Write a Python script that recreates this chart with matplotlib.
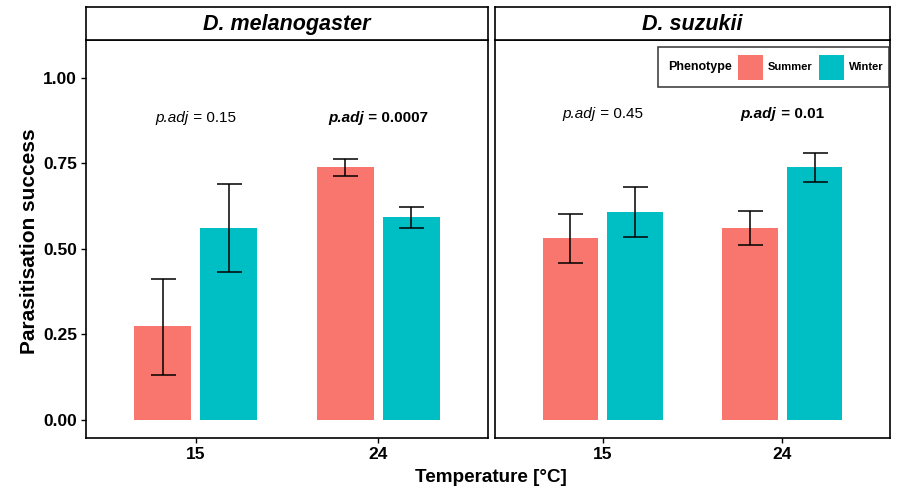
import matplotlib
matplotlib.use("Agg")
import matplotlib.pyplot as plt
from matplotlib.patches import Rectangle
import numpy as np

plt.rcParams['font.family'] = ['Liberation Sans', 'DejaVu Sans']

species = ["D. melanogaster", "D. suzukii"]
temperatures = ["15", "24"]
phenotypes = ["Summer", "Winter"]
colors = {"Summer": "#F8766D", "Winter": "#00BFC4"}

# values[species][phenotype] -> per temperature
means = {
    "D. melanogaster": {"Summer": [0.275, 0.740], "Winter": [0.562, 0.594]},
    "D. suzukii": {"Summer": [0.532, 0.561], "Winter": [0.609, 0.739]},
}
lower = {
    "D. melanogaster": {"Summer": [0.132, 0.713], "Winter": [0.433, 0.561]},
    "D. suzukii": {"Summer": [0.459, 0.512], "Winter": [0.535, 0.696]},
}
upper = {
    "D. melanogaster": {"Summer": [0.413, 0.763], "Winter": [0.690, 0.623]},
    "D. suzukii": {"Summer": [0.602, 0.611], "Winter": [0.681, 0.781]},
}
pvals = {
    "D. melanogaster": ["0.15", "0.0007"],
    "D. suzukii": ["0.45", "0.01"],
}
p_bold = {
    "D. melanogaster": [False, True],
    "D. suzukii": [False, True],
}
p_y = {"D. melanogaster": 0.884, "D. suzukii": 0.895}

W, H = 899, 490
fig = plt.figure(figsize=(W / 100, H / 100), dpi=100)

panels = [(86, 488), (495, 890)]
top, bottom = 40, 438
strip_top = 7

offsets = {"Summer": -0.18, "Winter": 0.18}
bar_w = 0.31
PFS = 11

axes = []
for i, sp in enumerate(species):
    x0, x1 = panels[i]
    ax = fig.add_axes([x0 / W, 1 - bottom / H, (x1 - x0) / W, (bottom - top) / H])
    axes.append(ax)
    xs = np.arange(1, len(temperatures) + 1)
    for ph in phenotypes:
        m = np.array(means[sp][ph])
        lo = np.array(lower[sp][ph])
        hi = np.array(upper[sp][ph])
        ax.bar(xs + offsets[ph], m, width=bar_w, color=colors[ph], zorder=2)
        ax.errorbar(xs + offsets[ph], m, yerr=[m - lo, hi - m], fmt='none',
                    ecolor='black', elinewidth=1.1, capsize=9, capthick=1.1, zorder=3)
    ax.set_xlim(0.4, 2.6)
    ax.set_ylim(-0.053, 1.111)
    ax.set_xticks(xs)
    ax.set_xticklabels(temperatures, fontsize=12.5, fontweight='bold')
    ax.set_yticks([0, 0.25, 0.5, 0.75, 1.0])
    if i == 0:
        ax.set_yticklabels(["0.00", "0.25", "0.50", "0.75", "1.00"], fontsize=12.5, fontweight='bold')
    else:
        ax.tick_params(axis='y', left=False, labelleft=False)
    ax.tick_params(axis='both', length=3.5, width=1, color='black', pad=3)
    for s in ax.spines.values():
        s.set_linewidth(1.2)
        s.set_color('black')

    # strip
    sax = fig.add_axes([x0 / W, 1 - top / H, (x1 - x0) / W, (top - strip_top) / H])
    sax.set_xticks([]); sax.set_yticks([])
    for s in sax.spines.values():
        s.set_linewidth(1.2)
    sax.text(0.5, 0.47, sp, transform=sax.transAxes, ha='center', va='center',
             fontsize=15.5, fontweight='bold', style='italic')

# p.adj annotations: italic "p.adj" + regular rest, centered together
fig.canvas.draw()
renderer = fig.canvas.get_renderer()
for i, sp in enumerate(species):
    ax = axes[i]
    for j, tval in enumerate(temperatures):
        bold = p_bold[sp][j]
        fw = 'bold' if bold else 'normal'
        t1 = ax.text(0, 0, "p.adj", fontsize=PFS, style='italic', fontweight=fw)
        t2 = ax.text(0, 0, " = " + pvals[sp][j], fontsize=PFS, fontweight=fw)
        w1 = t1.get_window_extent(renderer).width
        w2 = t2.get_window_extent(renderer).width
        t1.remove(); t2.remove()
        cx, cy = ax.transData.transform((j + 1, p_y[sp]))
        total = w1 + w2
        left_px = cx - total / 2
        inv = ax.transData.inverted()
        xa, _ = inv.transform((left_px, cy))
        xb, _ = inv.transform((left_px + w1, cy))
        ax.text(xa, p_y[sp], "p.adj", fontsize=PFS, style='italic', fontweight=fw,
                ha='left', va='center')
        ax.text(xb, p_y[sp], " = " + pvals[sp][j], fontsize=PFS, fontweight=fw,
                ha='left', va='center')

# legend (manual, inside right panel)
lx0, lx1, ly0, ly1 = 658, 889, 47, 87
fig.patches.append(Rectangle((lx0 / W, 1 - ly1 / H), (lx1 - lx0) / W, (ly1 - ly0) / H,
                             transform=fig.transFigure, facecolor='white',
                             edgecolor='#333333', linewidth=1.1, zorder=5))
cy = 1 - 67 / H
fig.text(668 / W, cy, "Phenotype", fontsize=9, fontweight='bold', ha='left', va='center', zorder=6)
for x_sw, ph, x_lab in [(738, "Summer", 768), (819, "Winter", 849)]:
    fig.patches.append(Rectangle((x_sw / W, 1 - 80 / H), 25 / W, 25 / H,
                                 transform=fig.transFigure, facecolor=colors[ph],
                                 edgecolor='none', zorder=6))
    fig.text(x_lab / W, cy, ph, fontsize=8, fontweight='bold', ha='left', va='center', zorder=6)

fig.text(30 / W, 1 - 241 / H, "Parasitisation success", rotation=90, fontsize=15,
         fontweight='bold', ha='center', va='center')
fig.text(491 / W, 1 - 477 / H, "Temperature [°C]", fontsize=13.6, fontweight='bold',
         ha='center', va='center')

fig.savefig("out.png", dpi=100)
